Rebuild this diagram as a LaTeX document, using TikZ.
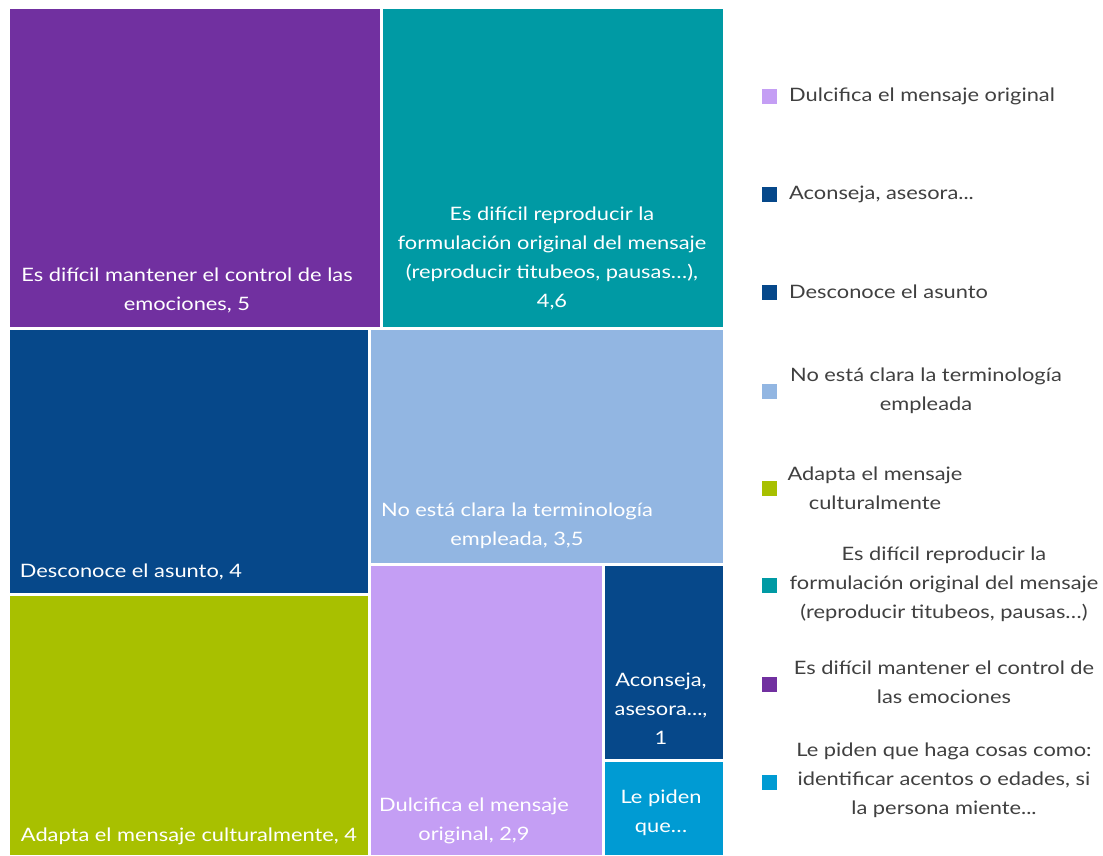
\documentclass[tikz,border=0pt]{standalone}
\usepackage{fontspec}
\setmainfont[FakeStretch=1.18]{Lato}
\definecolor{cPurple}{HTML}{7130A0}
\definecolor{cTeal}{HTML}{009AA4}
\definecolor{cDark}{HTML}{06488A}
\definecolor{cLight}{HTML}{92B6E2}
\definecolor{cGreen}{HTML}{A8C000}
\definecolor{cLav}{HTML}{C49EF4}
\definecolor{cCyan}{HTML}{009BD3}
\definecolor{cText}{HTML}{404040}
\begin{document}
\begin{tikzpicture}[x=1pt,y=-1pt,
  tile/.style={inner sep=0pt,text=white,align=center,font=\fontsize{18.5}{29}\selectfont},
  leg/.style={inner sep=0pt,text=cText,align=center,font=\fontsize{18.5}{29}\selectfont},
  sw/.style={minimum size=15pt,inner sep=0pt}]
\useasboundingbox (0,0) rectangle (1103,855);
\fill[white] (0,0) rectangle (1103,855);
% tiles
\fill[cPurple] (10,9) rectangle (380,327);
\fill[cTeal] (383,9) rectangle (723,327);
\fill[cDark] (10,330) rectangle (368,593);
\fill[cLight] (371,330) rectangle (723,563);
\fill[cGreen] (10,596) rectangle (368,855);
\fill[cLav] (371,566) rectangle (602,855);
\fill[cDark] (605,566) rectangle (723,759);
\fill[cCyan] (605,762) rectangle (723,855);
% tile labels
\node[tile] (tPurple) at (187,290) {Es difícil mantener el control de las\\emociones, 5};
\node[tile] (tTeal) at (552,258) {Es difícil reproducir la\\formulación original del mensaje\\(reproducir titubeos, pausas…),\\4,6};
\node[tile] (tDark) at (131,572) {Desconoce el asunto, 4};
\node[tile] (tLight) at (517,526) {No está clara la terminología\\empleada, 3,5};
\node[tile] (tGreen) at (189,836) {Adapta el mensaje culturalmente, 4};
\node[tile] (tLav) at (474,821) {Dulcifica el mensaje\\original, 2,9};
\node[tile] (tAcon) at (661,709) {Aconseja,\\asesora...,\\1};
\node[tile] (tCyan) at (661,813) {Le piden\\que…};
% legend
\node[sw,fill=cLav] (s1) at (769,96) {};
\node[leg,anchor=west] (l1) at (789,96) {Dulcifica el mensaje original};
\node[sw,fill=cDark] (s2) at (769,194) {};
\node[leg,anchor=west] (l2) at (789,194) {Aconseja, asesora...};
\node[sw,fill=cDark] (s3) at (769,292) {};
\node[leg,anchor=west] (l3) at (789,292) {Desconoce el asunto};
\node[sw,fill=cLight] (s4) at (769,391) {};
\node[leg] (l4) at (926,391) {No está clara la terminología\\empleada};
\node[sw,fill=cGreen] (s5) at (769,488) {};
\node[leg] (l5) at (875,488) {Adapta el mensaje\\culturalmente};
\node[sw,fill=cTeal] (s6) at (769,585) {};
\node[leg] (l6) at (944,584) {Es difícil reproducir la\\formulación original del mensaje\\(reproducir titubeos, pausas…)};
\node[sw,fill=cPurple] (s7) at (769,684) {};
\node[leg] (l7) at (944,682) {Es difícil mantener el control de\\las emociones};
\node[sw,fill=cCyan] (s8) at (769,782) {};
\node[leg] (l8) at (944,780) {Le piden que haga cosas como:\\identificar acentos o edades, si\\la persona miente...};
\end{tikzpicture}
\end{document}
